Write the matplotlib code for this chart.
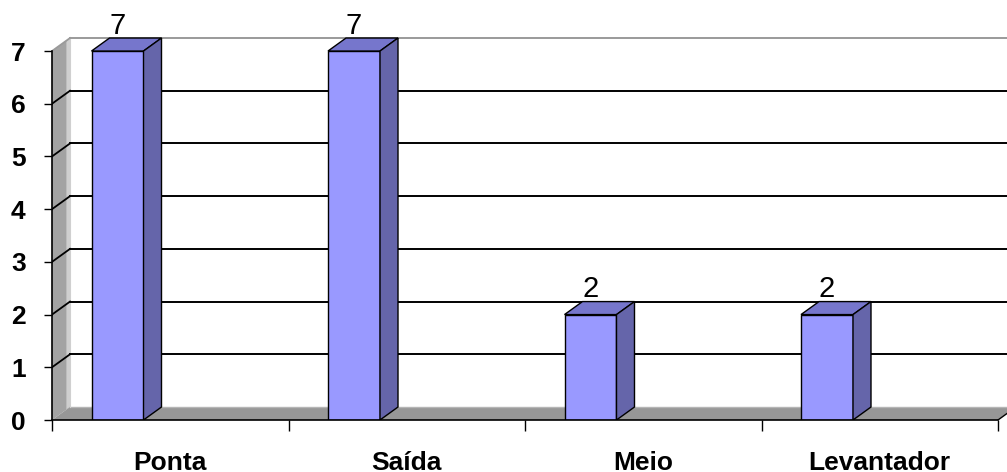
import matplotlib
matplotlib.use("Agg")
import matplotlib.pyplot as plt
from matplotlib.patches import Polygon

categories = ["Ponta", "Saída", "Meio", "Levantador"]
values = [7, 7, 2, 2]
yticks = [0, 1, 2, 3, 4, 5, 6, 7]

W, H = 1007, 472
fig = plt.figure(figsize=(W / 100, H / 100), dpi=100)

# pixel geometry of the plot (front plane)
px_left, px_zero = 52, 420
px_per_x = 236.5
px_per_y = 52.71
ax = fig.add_axes([px_left / W, (H - px_zero) / H, 1 - px_left / W, px_zero / H])
ax.set_xlim(0, (W - px_left) / px_per_x)
ax.set_ylim(0, px_zero / px_per_y)

DX = 18 / px_per_x   # depth offset (x)
DY = 13 / px_per_y   # depth offset (y)
ymax = max(yticks)
xmax = len(categories)
xr = ax.get_xlim()[1] + 1

# left wall
ax.add_patch(Polygon([(0, 0), (0, ymax), (DX, ymax + DY), (DX, DY)],
                     closed=True, facecolor="#a3a3a3", edgecolor="none", zorder=1))
ax.add_patch(Polygon([(DX * 0.8, DY * 0.8), (DX * 0.8, ymax + DY * 0.8), (DX, ymax + DY), (DX, DY)],
                     closed=True, facecolor="#cfcfcf", edgecolor="none", zorder=1))
# floor
ax.add_patch(Polygon([(0, 0), (xmax, 0), (xmax + DX, DY), (DX, DY)],
                     closed=True, facecolor="#979797", edgecolor="none", zorder=1))
ax.plot([DX, xr], [DY, DY], color="#b5b5b5", lw=1.0, zorder=1.5)
ax.plot([xmax, xmax + DX], [0, DY], color="black", lw=1.0, zorder=2, clip_on=True)

# gridlines: diagonal on left wall + horizontal on back wall
for v in yticks[1:]:
    col = "black" if v < ymax else "#9a9a9a"
    ax.plot([0, DX], [v, v + DY], color=col, lw=1.3, zorder=2)
    ax.plot([DX, xr], [v + DY, v + DY], color=col, lw=1.4, zorder=2)
ax.plot([DX, DX], [DY, ymax + DY], color="#d0d0d0", lw=0.8, zorder=1.5)

# bars
off, bw = 39.5 / px_per_x, 52 / px_per_x
for i, (c, v) in enumerate(zip(categories, values)):
    x0 = i + off
    x1 = x0 + bw
    ax.add_patch(Polygon([(x0, 0), (x1, 0), (x1, v), (x0, v)], closed=True,
                         facecolor="#9999ff", edgecolor="black", lw=1.0, zorder=5))
    ax.add_patch(Polygon([(x0, v), (x1, v), (x1 + DX, v + DY), (x0 + DX, v + DY)], closed=True,
                         facecolor="#7676cc", edgecolor="black", lw=1.0, zorder=5))
    ax.add_patch(Polygon([(x1, 0), (x1 + DX, DY), (x1 + DX, v + DY), (x1, v)], closed=True,
                         facecolor="#6565aa", edgecolor="black", lw=1.0, zorder=5))
    ax.text((x0 + x1) / 2, v + 0.33, str(v), ha="center", va="baseline",
            fontsize=21, family="Liberation Sans", color="black", zorder=6)

# spines / axes
for s in ["top", "right"]:
    ax.spines[s].set_visible(False)
ax.spines["left"].set_bounds(0, ymax)
ax.spines["bottom"].set_bounds(0, xmax)
ax.spines["left"].set_linewidth(1.2)
ax.spines["bottom"].set_linewidth(1.2)
ax.spines["left"].set_zorder(7)
ax.spines["bottom"].set_zorder(7)

ax.set_yticks(yticks)
ax.set_yticklabels([str(t) for t in yticks], fontsize=19, fontweight="bold",
                   family="Liberation Sans")
ax.tick_params(axis="y", length=6, width=1.0, pad=13, direction="out")

ax.set_xticks([i + 0.5 for i in range(xmax)])
ax.set_xticklabels(categories, fontsize=19, fontweight="bold", family="Liberation Sans")
ax.set_xticks(list(range(xmax + 1)), minor=True)
ax.tick_params(axis="x", which="major", length=0, pad=22)
ax.tick_params(axis="x", which="minor", length=8, width=1.0, direction="out")

fig.savefig("out.png", dpi=100)
